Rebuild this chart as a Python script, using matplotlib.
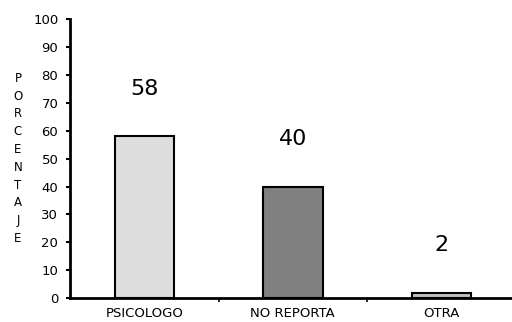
import numpy as np
import matplotlib.pyplot as plt

plt.rcParams['font.family'] = ['DejaVu Sans']

# datos
categorias = ['PSICOLOGO', 'NO REPORTA', 'OTRA']
porcentajes = [58, 40, 2]
colores = ['#dddddd', '#808080', '#c0c0c0']

fig = plt.figure(figsize=(5.12, 3.22), dpi=100)
ax = fig.add_axes([0.137, 0.074, 0.87, 0.867])

x = np.arange(len(categorias))
ax.bar(x, porcentajes, width=0.4, color=colores, edgecolor='black', linewidth=1.5, zorder=3)

# etiquetas de valor encima de cada barra
for xi, v in zip(x, porcentajes):
    ax.text(xi, v + 17, str(v), ha='center', va='center', fontsize=16)

ax.set_xlim(-0.5, 2.5)
ax.set_ylim(0, 100)
ax.set_yticks(range(0, 101, 10))
ax.set_xticks(x)
ax.set_xticklabels(categorias, fontsize=9.5)
ax.set_xticks([0.5, 1.5], minor=True)
ax.tick_params(axis='x', which='major', length=0, pad=6.5)
ax.tick_params(axis='x', which='minor', length=3, width=1.2, direction='out')
ax.tick_params(axis='y', length=3, width=1.5, labelsize=9.5, pad=5.5)

for s in ['top', 'right']:
    ax.spines[s].set_visible(False)
for s in ['left', 'bottom']:
    ax.spines[s].set_linewidth(2)

# etiqueta vertical con letras apiladas
fig.text(0.035, 0.508, '\n'.join('PORCENTAJE'), ha='center', va='center',
         fontsize=8.5, linespacing=1.48)

fig.savefig('out.png', dpi=100)
